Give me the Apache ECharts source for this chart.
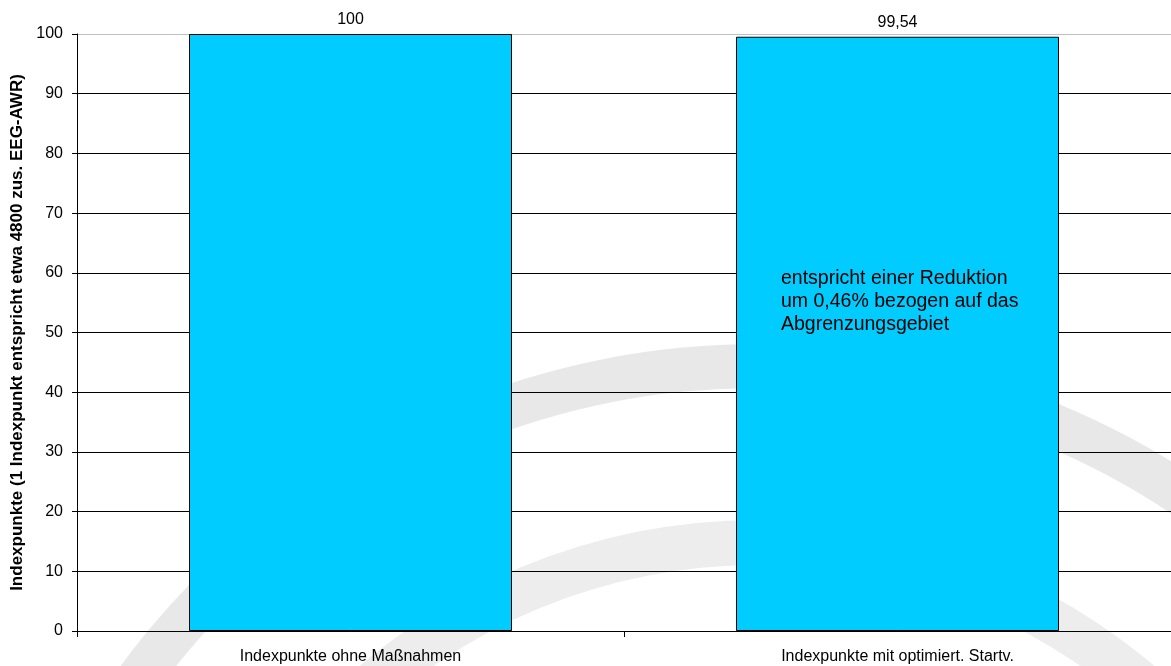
<!DOCTYPE html>
<html>
<head>
<meta charset="utf-8">
<script src="https://cdn.jsdelivr.net/npm/echarts@6/dist/echarts.min.js"></script>
<style>
  html, body { margin: 0; padding: 0; background: #fff; }
  #chart { width: 1171px; height: 666px; }
</style>
</head>
<body>
<div id="chart"></div>
<script>
const categories = ['Indexpunkte ohne Maßnahmen', 'Indexpunkte mit optimiert. Startv.'];
const values = [100, 99.54];
const yAxisTitle = 'Indexpunkte (1 Indexpunkt entspricht etwa 4800 zus. EEG-AWR)';
const noteLines = ['entspricht einer Reduktion', 'um 0,46% bezogen auf das', 'Abgrenzungsgebiet'];
const yMin = 0, yMax = 100, yStep = 10;

const FONT = '"Liberation Sans", Arial, sans-serif';
const chart = echarts.init(document.getElementById('chart'), null, { renderer: 'canvas' });

const gridColors = [];
for (let v = yMin; v <= yMax; v += yStep) gridColors.push(v === yMax ? '#c0c0c0' : '#000000');

chart.setOption({
  animation: false,
  backgroundColor: '#ffffff',
  grid: { left: 77, width: 1100, top: 34, bottom: 35, containLabel: false },
  xAxis: {
    type: 'category',
    data: categories,
    boundaryGap: true,
    axisLine: { show: true, lineStyle: { color: '#000', width: 1 } },
    axisTick: { show: true, length: 6, interval: 0, lineStyle: { color: '#000' } },
    axisLabel: { interval: 0, color: '#000', fontFamily: FONT, fontSize: 16, margin: 18 },
    splitLine: { show: false }
  },
  yAxis: {
    type: 'value',
    min: yMin, max: yMax, interval: yStep,
    name: yAxisTitle,
    nameLocation: 'middle',
    nameGap: 47,
    nameTextStyle: { color: '#000', fontFamily: FONT, fontSize: 17, fontWeight: 'bold' },
    axisLine: { show: true, lineStyle: { color: '#000', width: 1 } },
    axisTick: { show: true, length: 5, lineStyle: { color: '#000' } },
    axisLabel: { color: '#000', fontFamily: FONT, fontSize: 16, margin: 14 },
    splitLine: { show: true, lineStyle: { color: gridColors, width: 1 } }
  },
  graphic: [
    { type: 'ring', z: -10, silent: true,
      shape: { cx: 757, cy: 1134, r: 790, r0: 746 },
      style: { fill: '#e8e8e8' } },
    { type: 'ring', z: -10, silent: true,
      shape: { cx: 757, cy: 1134, r: 614, r0: 569 },
      style: { fill: '#ededed' } },
    { type: 'text', z: 100, silent: true, x: 781, y: 267,
      style: { text: noteLines.join('\n'), font: '19.5px ' + FONT, fill: '#000', lineHeight: 23, verticalAlign: 'top', align: 'left' } }
  ],
  series: [{
    type: 'bar',
    data: values,
    barWidth: 323,
    itemStyle: { color: '#00ccff', borderColor: '#000', borderWidth: 1 },
    label: {
      show: true, position: 'top', distance: 6,
      color: '#000', fontFamily: FONT, fontSize: 16,
      formatter: p => String(p.value).replace('.', ',')
    }
  }]
});
</script>
</body>
</html>
